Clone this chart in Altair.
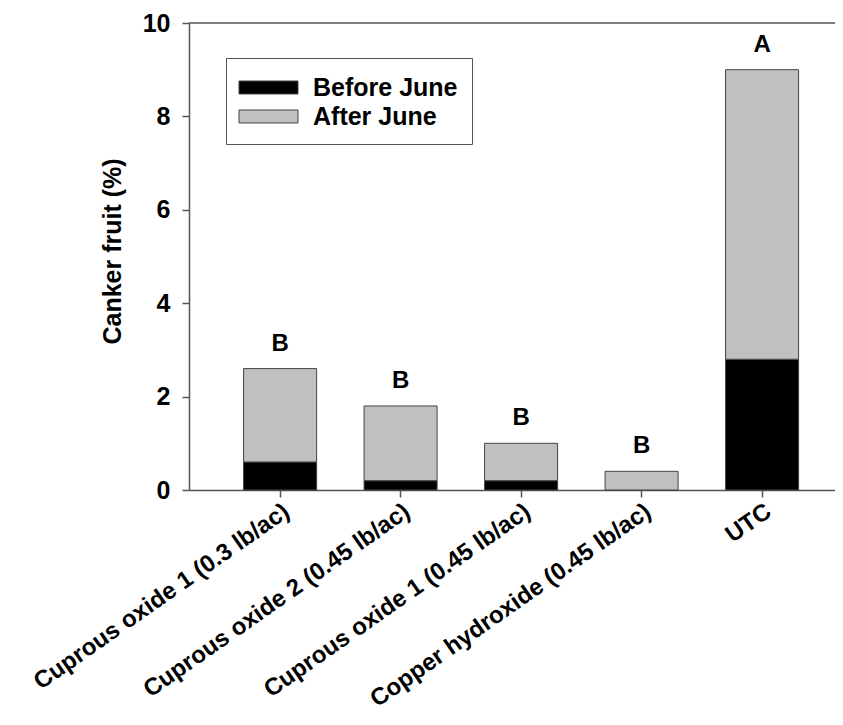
import altair as alt
import pandas as pd

treatments = [
    "Cuprous oxide 1 (0.3 lb/ac)",
    "Cuprous oxide 2 (0.45 lb/ac)",
    "Cuprous oxide 1 (0.45 lb/ac)",
    "Copper hydroxide (0.45 lb/ac)",
    "UTC",
]
before_june = [0.6, 0.2, 0.2, 0.0, 2.8]
after_june = [2.0, 1.6, 0.8, 0.4, 6.2]
letters = ["B", "B", "B", "B", "A"]
periods = ["Before June", "After June"]
y_ticks = [0, 2, 4, 6, 8, 10]

rows = []
for t, b, a in zip(treatments, before_june, after_june):
    rows.append({"treatment": t, "period": periods[0], "idx": 0, "value": b})
    rows.append({"treatment": t, "period": periods[1], "idx": 1, "value": a})
bars_df = pd.DataFrame(rows)
letters_df = pd.DataFrame({
    "treatment": treatments,
    "total": [b + a for b, a in zip(before_june, after_june)],
    "letter": letters,
})

FONT = "Liberation Sans"
AX = "#555555"

xscale = alt.Scale(domain=treatments, paddingInner=0.394, paddingOuter=0.3775, align=0.6)
yscale = alt.Scale(domain=[0, 10], nice=False)

bars = alt.Chart(bars_df).mark_bar(stroke="#444444", strokeWidth=1).encode(
    x=alt.X("treatment:N", scale=xscale, sort=treatments, title=None,
            axis=alt.Axis(labelAngle=-35, labelFontSize=24, labelFont=FONT,
                          labelFontWeight="bold", labelColor="black",
                          tickSize=7, tickColor=AX, tickWidth=1.5,
                          domainColor=AX, domainWidth=1.5, labelPadding=2,
                          labelLimit=0)),
    y=alt.Y("value:Q", scale=yscale, stack="zero",
            axis=alt.Axis(values=y_ticks, title="Canker fruit (%)",
                          labelFontSize=25, labelFont=FONT, labelFontWeight="bold",
                          labelColor="black", tickSize=7, tickColor=AX, tickWidth=1.5,
                          domainColor=AX, domainWidth=1.5, labelPadding=12,
                          grid=False, titleFontSize=25, titleFont=FONT,
                          titleFontWeight="bold", titleColor="black",
                          titleX=-77, titleY=228, titleAngle=-90,
                          titleBaseline="middle", titleAlign="center")),
    color=alt.Color("period:N", scale=alt.Scale(domain=periods, range=["#000000", "#c0c0c0"]),
                    legend=alt.Legend(title=None, orient="none", legendX=37, legendY=35,
                                      symbolType="M-1.967,-0.433H1.967V0.433H-1.967Z",
                                      symbolSize=900, symbolOffset=13,
                                      symbolStrokeColor="#444444", symbolStrokeWidth=1,
                                      labelFontSize=25, labelFont=FONT, labelFontWeight="bold",
                                      labelColor="black", labelOffset=29, padding=14,
                                      strokeColor=AX, rowPadding=-1)),
    order=alt.Order("idx:Q"),
)

text = alt.Chart(letters_df).mark_text(fontSize=24, font=FONT, fontWeight="bold",
                                        color="black", dy=-25).encode(
    x=alt.X("treatment:N", scale=xscale, sort=treatments),
    y=alt.Y("total:Q", scale=yscale),
    text="letter:N",
)

top = alt.Chart(pd.DataFrame({"y": [10]})).mark_rule(color=AX, strokeWidth=1.5).encode(
    y=alt.Y("y:Q", scale=yscale)
)

chart = alt.layer(bars, text, top).properties(
    width=646, height=467,
    autosize=alt.AutoSizeParams(type="none"),
    padding={"left": 181, "top": 15, "right": 0, "bottom": 227},
).configure_view(stroke=None)

chart.save("out.html", embed_options={"renderer": "svg", "actions": False})
